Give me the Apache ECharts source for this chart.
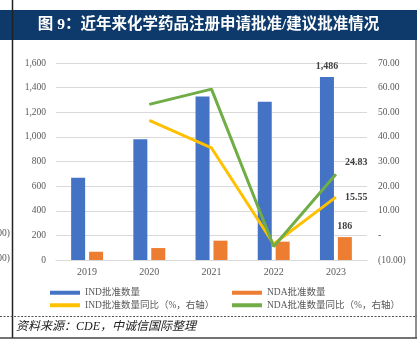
<!DOCTYPE html>
<html><head><meta charset="utf-8">
<script src="https://cdn.jsdelivr.net/npm/echarts@6/dist/echarts.min.js"></script>
<style>html,body{margin:0;padding:0;background:#fff}#c{width:417px;height:361px}</style>
</head><body><div id="c"></div>
<script>
const years = ['2019','2020','2021','2022','2023'];
const indCount = [668, 980, 1327, 1286, 1486];
const ndaCount = [67, 97, 157, 149, 186];
const indYoY = [null, 46.7, 35.5, -3.5, 15.55];
const ndaYoY = [null, 53.2, 59.4, -4.5, 24.83];
const leftTicks = {min: 0, max: 1600, interval: 200};
const rightTicks = {min: -10, max: 70, interval: 10};

const serif = 'Liberation Serif, "Noto Sans CJK SC", serif';
const txt = '#595959';
const chart = echarts.init(document.getElementById('c'));
const lastOnly = (fmt, dy) => ({
  show: true, position: 'right', distance: 9, offset: [0, dy], fontFamily: serif, fontSize: 10,
  fontWeight: 'bold', color: '#404040',
  formatter: p => p.dataIndex === years.length - 1 ? fmt(p.value) : ''
});
chart.setOption({
  animation: false,
  textStyle: {fontFamily: serif},
  grid: {left: 56, right: 50, top: 63, bottom: 101},
  legend: [
    {left: 45, top: 283, orient: 'vertical', itemGap: 3, itemWidth: 30, itemHeight: 4,
     icon: 'rect', textStyle: {fontFamily: serif, fontSize: 9.5, color: txt},
     data: ['IND批准数量', 'IND批准数量同比（%，右轴）']},
    {left: 227, top: 283, orient: 'vertical', itemGap: 3, itemWidth: 30, itemHeight: 4,
     icon: 'rect', textStyle: {fontFamily: serif, fontSize: 9.5, color: txt},
     data: ['NDA批准数量', 'NDA批准数量同比（%，右轴）']}
  ],
  xAxis: {
    type: 'category', data: years,
    axisLine: {lineStyle: {color: '#d9d9d9'}}, axisTick: {show: false},
    axisLabel: {color: txt, fontSize: 10, fontFamily: serif, margin: 7}
  },
  yAxis: [
    {type: 'value', min: leftTicks.min, max: leftTicks.max, interval: leftTicks.interval,
     axisLine: {show: false}, axisTick: {show: false},
     splitLine: {lineStyle: {color: '#d9d9d9', width: 1}},
     axisLabel: {color: txt, fontSize: 9.5, fontFamily: serif, margin: 10,
       formatter: v => v.toLocaleString('en-US')}},
    {type: 'value', min: rightTicks.min, max: rightTicks.max, interval: rightTicks.interval,
     axisLine: {show: false}, axisTick: {show: false}, splitLine: {show: false},
     axisLabel: {color: txt, fontSize: 9.5, fontFamily: serif, margin: 11,
       formatter: v => v === 0 ? '-' : (v < 0 ? '(' + Math.abs(v).toFixed(2) + ')' : v.toFixed(2))}}
  ],
  series: [
    {name: 'IND批准数量', type: 'bar', data: indCount, barWidth: 14, barGap: '28%',
     itemStyle: {color: '#4472C4'},
     label: {show: true, position: 'top', distance: 6, fontFamily: serif, fontSize: 10,
       fontWeight: 'bold', color: '#404040',
       formatter: p => p.dataIndex === years.length - 1 ? p.value.toLocaleString('en-US') : ''}},
    {name: 'NDA批准数量', type: 'bar', data: ndaCount, barWidth: 14,
     itemStyle: {color: '#ED7D31'},
     label: {show: true, position: 'top', distance: 6, fontFamily: serif, fontSize: 10,
       fontWeight: 'bold', color: '#404040',
       formatter: p => p.dataIndex === years.length - 1 ? String(p.value) : ''}},
    {name: 'IND批准数量同比（%，右轴）', type: 'line', yAxisIndex: 1, data: indYoY,
     symbol: 'circle', symbolSize: 0.1, showSymbol: true,
     lineStyle: {color: '#FFC000', width: 3}, itemStyle: {color: '#FFC000'},
     label: lastOnly(v => v.toFixed(2), 0)},
    {name: 'NDA批准数量同比（%，右轴）', type: 'line', yAxisIndex: 1, data: ndaYoY,
     symbol: 'circle', symbolSize: 0.1, showSymbol: true,
     lineStyle: {color: '#70AD47', width: 3}, itemStyle: {color: '#70AD47'},
     label: lastOnly(v => v.toFixed(2), -12)}
  ],
  graphic: [
    {type: 'rect', left: 0, top: 10, shape: {width: 417, height: 30}, style: {fill: '#0d3a6b'}, z: 0},
    {type: 'text', left: 'center', top: 17, style: {text: '图 9：近年来化学药品注册申请批准/建议批准情况',
      fill: '#fff', font: 'bold 15.5px ' + serif}, z: 2},
    {type: 'line', shape: {x1: 12.5, y1: 0, x2: 12.5, y2: 338}, style: {stroke: '#222', lineWidth: 1.5}, z: 3},
    {type: 'line', shape: {x1: 416, y1: 40, x2: 416, y2: 338}, style: {stroke: '#444', lineWidth: 1.2}, z: 3},
    {type: 'line', shape: {x1: 0, y1: 316.5, x2: 417, y2: 316.5}, style: {stroke: '#555', lineWidth: 1, lineDash: [2, 1.5]}, z: 3},
    {type: 'line', shape: {x1: 0, y1: 338, x2: 417, y2: 338}, style: {stroke: '#444', lineWidth: 1.5}, z: 3},
    {type: 'text', left: 16, top: 321, style: {text: '资料来源：CDE，中诚信国际整理',
      fill: '#222', font: 'italic 12px ' + serif}, z: 2},
    {type: 'text', right: 407, top: 229, style: {text: '(10.00)', fill: txt, font: '9.5px ' + serif}},
    {type: 'text', right: 407, top: 254, style: {text: '(20.00)', fill: txt, font: '9.5px ' + serif}}
  ]
});
</script></body></html>
